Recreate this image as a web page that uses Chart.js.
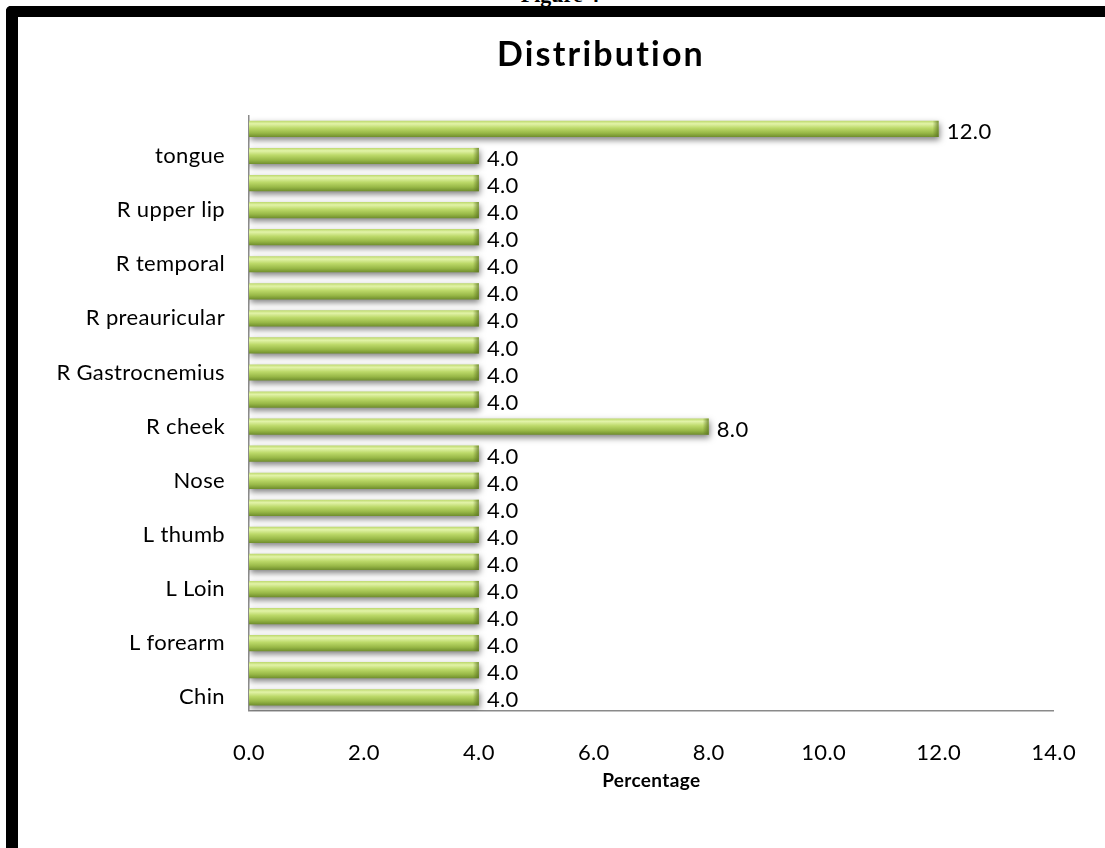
<!DOCTYPE html>
<html>
<head>
<meta charset="utf-8">
<script src="https://cdn.jsdelivr.net/npm/chart.js@4/dist/chart.umd.min.js"></script>
<style>
  html, body { margin: 0; padding: 0; background: #fff; overflow: hidden; }
  body { width: 1105px; height: 848px; position: relative; }
  #caption {
    position: absolute; left: 0; width: 1120px; top: -16px;
    text-align: center; font: bold 22px "Liberation Serif", serif; line-height: 22px; color: #000;
  }
  #frame {
    position: absolute; left: 6px; top: 6px; width: 1200px; height: 1000px;
    border-top: 11px solid #000; border-left: 12px solid #000;
    border-top-left-radius: 5px; box-sizing: border-box;
  }
  #wrap { position: absolute; left: 0; top: 0; width: 1105px; height: 848px; }
</style>
</head>
<body>
<div id="caption">Figure 4</div>
<div id="frame"></div>
<div id="wrap"><canvas id="chart"></canvas></div>
<script>
// Sites, listed top to bottom; unnamed rows carry no axis label
const sites = [
  '', 'tongue', '', 'R upper lip', '', 'R temporal', '', 'R preauricular',
  '', 'R Gastrocnemius', '', 'R cheek', '', 'Nose', '', 'L thumb',
  '', 'L Loin', '', 'L forearm', '', 'Chin'
];
// Percentage of cases per site
const percentages = [
  12.0, 4.0, 4.0, 4.0, 4.0, 4.0, 4.0, 4.0,
  4.0, 4.0, 4.0, 8.0, 4.0, 4.0, 4.0, 4.0,
  4.0, 4.0, 4.0, 4.0, 4.0, 4.0
];
const xTicks = [0, 2, 4, 6, 8, 10, 12, 14];

const FONT = 'Lato, "Open Sans", sans-serif';
const TEXT_SPACING = '0.35px';
const TITLE_SHIFT = 63;   // title sits right of the layout centre

// Slightly looser text tracking; the title gets a wider one and a shift
const tracking = {
  id: 'tracking',
  beforeUpdate(chart) { chart.ctx.letterSpacing = TEXT_SPACING; },
  afterLayout(chart) {
    const t = chart.titleBlock;
    if (!t || t._tracked) return;
    const orig = t.draw.bind(t);
    t.draw = function () {
      const c = this.ctx;
      c.save();
      c.letterSpacing = '2.2px';
      c.translate(TITLE_SHIFT, 0);
      orig();
      c.restore();
    };
    t._tracked = true;
  }
};

// Glossy green bars with a soft drop shadow and value labels
const barStyle = {
  id: 'barStyle',
  beforeDatasetsDraw(chart) {
    const ctx = chart.ctx;
    chart.getDatasetMeta(0).data.forEach(el => {
      const { y, height } = el.getProps(['y', 'height'], true);
      const g = ctx.createLinearGradient(0, y - height / 2, 0, y + height / 2);
      g.addColorStop(0, '#bcd86c');
      g.addColorStop(0.18, '#e2f3a8');
      g.addColorStop(0.45, '#bcd969');
      g.addColorStop(0.75, '#98b847');
      g.addColorStop(1, '#6f8d2d');
      el.options.backgroundColor = g;
    });
    ctx.save();
    ctx.shadowColor = 'rgba(0,0,0,0.5)';
    ctx.shadowBlur = 6;
    ctx.shadowOffsetX = 1;
    ctx.shadowOffsetY = 3;
  },
  afterDatasetsDraw(chart) {
    const ctx = chart.ctx;
    ctx.restore();
    const meta = chart.getDatasetMeta(0);
    meta.data.forEach((el, i) => {
      const { x, y, height } = el.getProps(['x', 'y', 'height'], true);
      // darker rounded end cap
      const cap = ctx.createLinearGradient(x - 6, 0, x, 0);
      cap.addColorStop(0, 'rgba(90,115,30,0)');
      cap.addColorStop(1, 'rgba(90,115,30,0.75)');
      ctx.fillStyle = cap;
      ctx.fillRect(x - 6, y - height / 2, 6, height);
      // value label
      ctx.fillStyle = '#000';
      ctx.font = '22px ' + FONT;
      ctx.textAlign = 'left';
      ctx.textBaseline = 'middle';
      ctx.fillText(percentages[i].toFixed(1), x + 8, y + 3);
    });
  }
};

new Chart(document.getElementById('chart'), {
  type: 'bar',
  data: {
    labels: sites,
    datasets: [{
      data: percentages,
      backgroundColor: () => '#a9cb4f',
      borderWidth: 0,
      categoryPercentage: 1,
      barPercentage: 0.6
    }]
  },
  options: {
    indexAxis: 'y',
    responsive: true,
    maintainAspectRatio: false,
    animation: false,
    layout: { padding: { left: 18, right: 47, top: 17, bottom: 52 } },
    plugins: {
      legend: { display: false },
      tooltip: { enabled: false },
      title: {
        display: true,
        text: 'Distribution',
        color: '#000',
        font: { family: FONT, size: 34, weight: 'bold', lineHeight: 1.2 },
        padding: { top: 18, bottom: 39.6 }
      }
    },
    scales: {
      x: {
        min: 0, max: 14,
        afterBuildTicks(scale) { scale.ticks = xTicks.map(v => ({ value: v })); },
        grid: { display: false, drawTicks: false },
        border: { display: true, color: '#8a8a8a', width: 1.5 },
        ticks: {
          padding: 29, color: '#000',
          font: { family: FONT, size: 22 },
          callback: v => Number(v).toFixed(1)
        },
        title: {
          display: true, text: 'Percentage', color: '#000',
          font: { family: FONT, size: 19, weight: 'bold', lineHeight: 1.2 },
          padding: { top: -26, bottom: 4 }
        }
      },
      y: {
        afterFit(scale) { scale.width = 231; },
        grid: { display: false, drawTicks: false },
        border: { display: true, color: '#8a8a8a', width: 1.5 },
        ticks: {
          autoSkip: false, padding: 24, color: '#000',
          font: { family: FONT, size: 22 }
        }
      }
    }
  },
  plugins: [tracking, barStyle]
});
</script>
</body>
</html>
